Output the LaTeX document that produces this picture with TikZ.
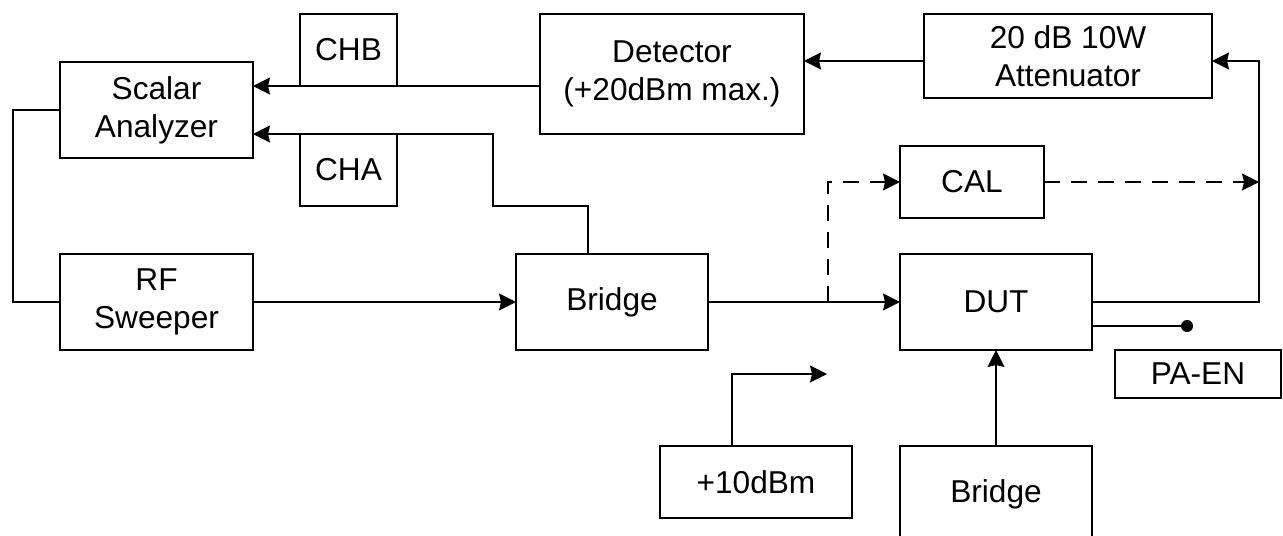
\documentclass[tikz,border=0pt]{standalone}
\usepackage{fontspec}
\setmainfont{Liberation Sans}
\usetikzlibrary{positioning,arrows.meta,calc}

\begin{document}
\begin{tikzpicture}[>={Stealth[length=0.34cm, width=0.34cm, inset=0.04cm]},
  box/.style={draw, line width=1.1pt, align=center, inner sep=0pt, outer sep=0pt,
    font=\fontsize{18}{21.6}\selectfont},
  wire/.style={line width=1.1pt},
  calwire/.style={wire, dash pattern=on 0.32cm off 0.22cm}]

\useasboundingbox (0, 0) rectangle (25.66, 10.7);

% Instruments
\node[box, minimum width=3.86cm, minimum height=1.92cm] (sa) at (3.13, 8.5) {Scalar\\Analyzer};
\node[box, minimum width=3.86cm, minimum height=1.92cm] (rf) at (3.13, 4.66) {RF\\Sweeper};
\node[box, minimum width=1.94cm, minimum height=1.44cm] (chb) at (6.97, 9.7) {CHB};
\node[box, minimum width=1.94cm, minimum height=1.44cm] (cha) at (6.97, 7.3) {CHA};
\node[box, minimum width=5.28cm, minimum height=2.4cm] (det) at (13.44, 9.22) {Detector\\(+20dBm max.)};
\node[box, minimum width=5.76cm, minimum height=1.68cm] (att) at (21.36, 9.58) {20 dB 10W\\Attenuator};
\node[box, minimum width=2.88cm, minimum height=1.44cm] (cal) at (19.44, 7.06) {CAL};

% Signal path
\node[box, minimum width=3.84cm, minimum height=1.92cm] (br) at (12.24, 4.66) {Bridge};
\node[box, minimum width=3.84cm, minimum height=1.92cm] (dut) at (19.92, 4.66) {DUT};
\node[box, minimum width=3.84cm, minimum height=1.44cm] (pwr) at (15.12, 1.06) {+10dBm};
\node[box, minimum width=3.84cm, minimum height=1.92cm] (br2) at (19.92, 0.82) {Bridge};
\node[box, minimum width=3.32cm, minimum height=0.96cm] (paen) at (23.96, 3.22) {PA-EN};

% Helper points
\coordinate (lx) at (0.26, 0);
\coordinate (rx) at (25.18, 0);
\coordinate (dx) at (16.56, 0);
\coordinate (en) at (23.74, 4.18);
\coordinate (pin) at (16.54, 3.22);
\coordinate (ain) at ([yshift=-0.1cm]att.east);

% Sweeper loop to the analyzer
\draw[wire] (sa.west) -| (lx |- rf.west) -- (rf.west);
\draw[wire, ->] (rf.east) -- (br.west);
\draw[wire, ->] (br.east) -- (dut.west);

% Calibration branch
\draw[calwire, ->] (dx |- br.east) |- (cal.west);
\draw[calwire, ->] (cal.east) -- (rx |- cal.east);

% Output back through attenuator and detector
\draw[wire, ->] (dut.east) -| (rx |- ain) -- (ain);
\draw[wire, ->] ([yshift=-0.1cm]att.west) -- ([yshift=-0.1cm]att.west -| det.east);
\draw[wire, ->] (det.west |- chb.south) -- (sa.east |- chb.south);

% Reflected channel
\draw[wire, ->] ([xshift=-0.48cm]br.north) |- ($(cha.south east)+(1.92, 0)$) |- (sa.east |- cha.north);

% Bias and enable
\draw[wire, ->] (br2.north) -- (dut.south);
\draw[wire, ->] ([xshift=-0.48cm]pwr.north) |- (pin);
\draw[wire] ([yshift=-0.48cm]dut.east) -- (en);
\fill (en) circle (0.12);

\end{tikzpicture}
\end{document}
